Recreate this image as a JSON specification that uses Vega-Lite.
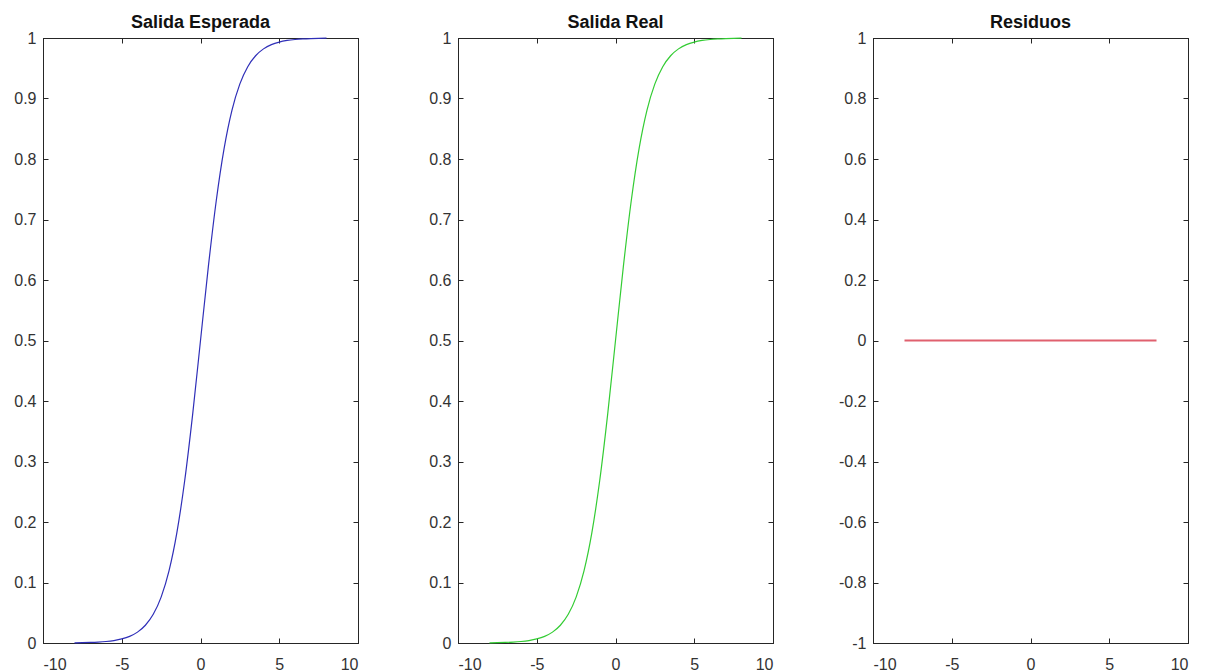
{
  "$schema": "https://vega.github.io/schema/vega-lite/v6.json",
  "autosize": "pad",
  "padding": {"left": 13, "top": 13, "right": 5, "bottom": 2},
  "background": "white",
  "datasets": {
    "sig": [
      {"x": -8, "y": 0.000335}, {"x": -7.5, "y": 0.000553}, {"x": -7, "y": 0.000911}, {"x": -6.5, "y": 0.001501},
      {"x": -6, "y": 0.002473}, {"x": -5.5, "y": 0.00407}, {"x": -5, "y": 0.006693}, {"x": -4.5, "y": 0.010987},
      {"x": -4, "y": 0.017986}, {"x": -3.5, "y": 0.029312}, {"x": -3, "y": 0.047426}, {"x": -2.5, "y": 0.075858},
      {"x": -2, "y": 0.119203}, {"x": -1.5, "y": 0.182426}, {"x": -1, "y": 0.268941}, {"x": -0.5, "y": 0.377541},
      {"x": 0, "y": 0.5}, {"x": 0.5, "y": 0.622459}, {"x": 1, "y": 0.731059}, {"x": 1.5, "y": 0.817574},
      {"x": 2, "y": 0.880797}, {"x": 2.5, "y": 0.924142}, {"x": 3, "y": 0.952574}, {"x": 3.5, "y": 0.970688},
      {"x": 4, "y": 0.982014}, {"x": 4.5, "y": 0.989013}, {"x": 5, "y": 0.993307}, {"x": 5.5, "y": 0.99593},
      {"x": 6, "y": 0.997527}, {"x": 6.5, "y": 0.998499}, {"x": 7, "y": 0.999089}, {"x": 7.5, "y": 0.999447},
      {"x": 8, "y": 0.999665}
    ],
    "res": [
      {"x": -8, "y": 0}, {"x": 8, "y": 0}
    ]
  },
  "config": {
    "font": "Liberation Sans",
    "view": {"stroke": "#262626", "strokeWidth": 1},
    "axis": {
      "grid": false,
      "domainColor": "#262626",
      "domainWidth": 1,
      "tickColor": "#262626",
      "tickSize": -5,
      "labelColor": "#333333",
      "labelFontSize": 16,
      "labelFont": "Liberation Sans",
      "title": null
    },
    "axisX": {"labelPadding": 18},
    "axisY": {"labelPadding": 12},
    "title": {"fontSize": 18, "fontWeight": "bold", "color": "#111111", "baseline": "alphabetic", "offset": -2, "font": "Liberation Sans"}
  },
  "hconcat": [
    {
      "width": 315, "height": 605,
      "title": "Salida Esperada",
      "data": {"name": "sig"},
      "layer": [
        {
          "mark": {"type": "line", "color": "#2f2fb8", "strokeWidth": 1.2, "interpolate": "monotone"},
          "encoding": {
            "x": {"field": "x", "type": "quantitative", "scale": {"domain": [-10, 10], "nice": false}, "axis": {"values": [-10, -5, 0, 5, 10], "labelExpr": "'' + datum.value"}},
            "y": {"field": "y", "type": "quantitative", "scale": {"domain": [0, 1], "nice": false}, "axis": {"values": [0, 0.1, 0.2, 0.3, 0.4, 0.5, 0.6, 0.7, 0.8, 0.9, 1], "labelExpr": "'' + datum.value"}}
          }
        },
        {
          "mark": {"type": "line", "opacity": 0},
          "encoding": {
            "x": {"field": "x", "type": "quantitative", "axis": {"orient": "top", "labels": false, "values": [-10, -5, 0, 5, 10]}},
            "y": {"field": "y", "type": "quantitative", "axis": {"orient": "right", "labels": false, "values": [0, 0.1, 0.2, 0.3, 0.4, 0.5, 0.6, 0.7, 0.8, 0.9, 1]}}
          }
        }
      ],
      "resolve": {"axis": {"x": "independent", "y": "independent"}}
    },
    {
      "width": 315, "height": 605,
      "title": "Salida Real",
      "data": {"name": "sig"},
      "layer": [
        {
          "mark": {"type": "line", "color": "#33cc33", "strokeWidth": 1.2, "interpolate": "monotone"},
          "encoding": {
            "x": {"field": "x", "type": "quantitative", "scale": {"domain": [-10, 10], "nice": false}, "axis": {"values": [-10, -5, 0, 5, 10], "labelExpr": "'' + datum.value"}},
            "y": {"field": "y", "type": "quantitative", "scale": {"domain": [0, 1], "nice": false}, "axis": {"values": [0, 0.1, 0.2, 0.3, 0.4, 0.5, 0.6, 0.7, 0.8, 0.9, 1], "labelExpr": "'' + datum.value"}}
          }
        },
        {
          "mark": {"type": "line", "opacity": 0},
          "encoding": {
            "x": {"field": "x", "type": "quantitative", "axis": {"orient": "top", "labels": false, "values": [-10, -5, 0, 5, 10]}},
            "y": {"field": "y", "type": "quantitative", "axis": {"orient": "right", "labels": false, "values": [0, 0.1, 0.2, 0.3, 0.4, 0.5, 0.6, 0.7, 0.8, 0.9, 1]}}
          }
        }
      ],
      "resolve": {"axis": {"x": "independent", "y": "independent"}}
    },
    {
      "width": 315, "height": 605,
      "title": "Residuos",
      "data": {"name": "res"},
      "layer": [
        {
          "mark": {"type": "line", "color": "#e0606e", "strokeWidth": 2},
          "encoding": {
            "x": {"field": "x", "type": "quantitative", "scale": {"domain": [-10, 10], "nice": false}, "axis": {"values": [-10, -5, 0, 5, 10], "labelExpr": "'' + datum.value"}},
            "y": {"field": "y", "type": "quantitative", "scale": {"domain": [-1, 1], "nice": false}, "axis": {"values": [-1, -0.8, -0.6, -0.4, -0.2, 0, 0.2, 0.4, 0.6, 0.8, 1], "labelExpr": "'' + datum.value"}}
          }
        },
        {
          "mark": {"type": "line", "opacity": 0},
          "encoding": {
            "x": {"field": "x", "type": "quantitative", "axis": {"orient": "top", "labels": false, "values": [-10, -5, 0, 5, 10]}},
            "y": {"field": "y", "type": "quantitative", "axis": {"orient": "right", "labels": false, "values": [-1, -0.8, -0.6, -0.4, -0.2, 0, 0.2, 0.4, 0.6, 0.8, 1]}}
          }
        }
      ],
      "resolve": {"axis": {"x": "independent", "y": "independent"}}
    }
  ],
  "spacing": 100,
  "bounds": "flush"
}
